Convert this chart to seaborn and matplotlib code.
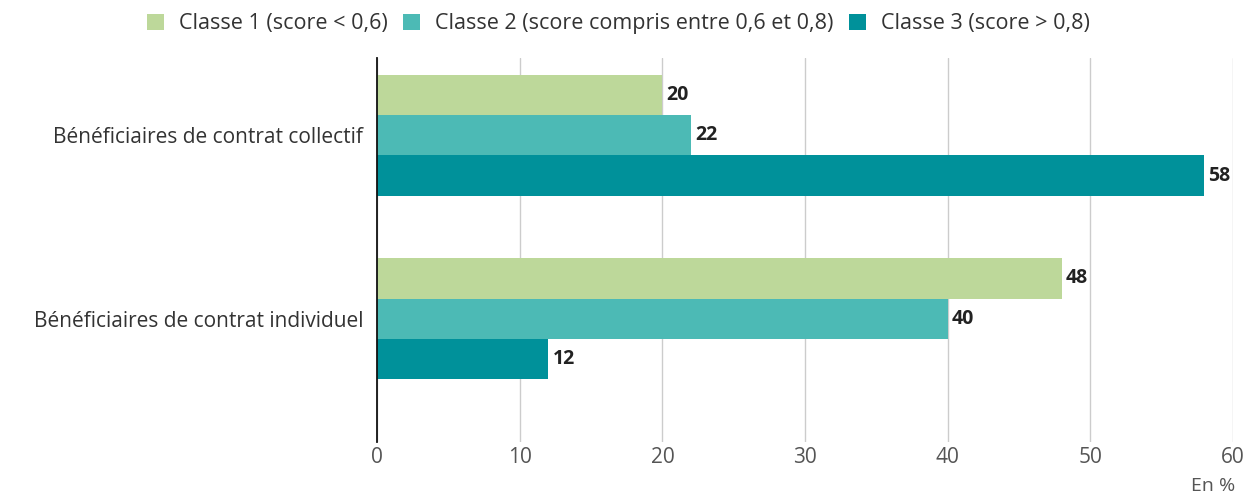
import matplotlib
matplotlib.use("Agg")
import matplotlib.pyplot as plt
import seaborn as sns
import pandas as pd

categories = ["Bénéficiaires de contrat collectif", "Bénéficiaires de contrat individuel"]
classes = ["Classe 1 (score < 0,6)", "Classe 2 (score compris entre 0,6 et 0,8)", "Classe 3 (score > 0,8)"]
classe1 = [20, 48]
classe2 = [22, 40]
classe3 = [58, 12]
xticks = [0, 10, 20, 30, 40, 50, 60]
colors = ["#bdd89a", "#4cbab5", "#00919a"]

rows = []
for cls, vals in zip(classes, [classe1, classe2, classe3]):
    for cat, v in zip(categories, vals):
        rows.append({"cat": cat, "cls": cls, "val": v})
df = pd.DataFrame(rows)

sns.set_theme(style="white")
plt.rcParams["font.family"] = ["Open Sans", "DejaVu Sans"]

fig = plt.figure(figsize=(12.49, 4.97), dpi=100)
ax = fig.add_axes([0.302, 0.111, 0.685, 0.772])

sns.barplot(data=df, y="cat", x="val", hue="cls", orient="h", palette=colors,
            width=0.66, gap=0, ax=ax, legend=True, saturation=1, edgecolor="none")

for c in ax.containers:
    ax.bar_label(c, padding=3, fontsize=14, fontweight="bold", color="#222222")

ax.set_xlim(0, 60)
ax.set_ylim(1.67, -0.42)
ax.set_xticks(xticks)
ax.set_xticklabels([str(t) for t in xticks])
ax.grid(axis="x", color="#cccccc", linewidth=1)
ax.grid(axis="y", visible=False)
ax.set_axisbelow(True)
for s in ["top", "right", "bottom"]:
    ax.spines[s].set_visible(False)
ax.spines["left"].set_color("#111111")
ax.spines["left"].set_linewidth(1.3)
ax.spines["left"].set_zorder(5)
ax.set_xlabel("")
ax.set_ylabel("")
ax.tick_params(axis="x", length=0, pad=4, labelsize=15, labelcolor="#555555")
ax.tick_params(axis="y", length=0, pad=10, labelsize=15, labelcolor="#333333")

handles, labels = ax.get_legend_handles_labels()
ax.get_legend().remove()
fig.legend(handles, labels, loc="center", bbox_to_anchor=(0.495, 0.952), ncol=3,
           frameon=False, fontsize=15.5, handlelength=0.8, handleheight=0.8,
           handletextpad=0.7, columnspacing=0.7, labelcolor="#333333")

fig.text(0.989, 0.005, "En %", ha="right", va="bottom", fontsize=14, color="#555555")

fig.savefig("out.png", dpi=100)
